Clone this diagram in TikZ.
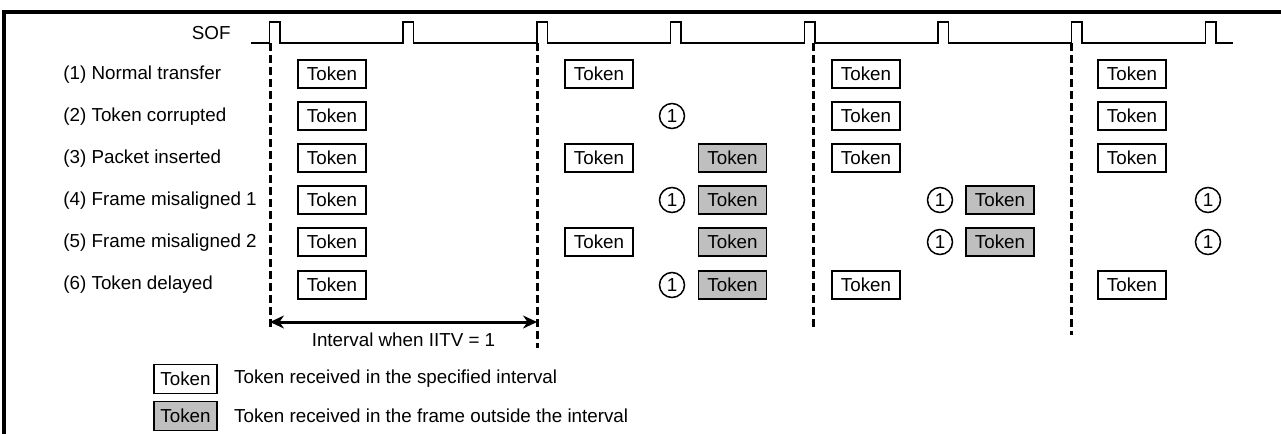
\documentclass[tikz,border=0pt]{standalone}
\usepackage{fontspec}
\setmainfont{Liberation Sans}
\usetikzlibrary{arrows.meta,positioning}
\definecolor{lategray}{RGB}{191,191,191}

\begin{document}
\begin{tikzpicture}[
        x=0.5pt, y=-0.5pt,
        font=\fontsize{9.4}{11}\selectfont,
        token/.style={draw, line width=0.8pt, minimum width=34pt, minimum height=14pt, inner sep=0pt},
        late/.style={token, fill=lategray},
        lost/.style={draw, circle, line width=0.75pt, minimum size=12.5pt, inner sep=0pt},
        rowlabel/.style={anchor=west, inner sep=0pt},
        sofline/.style={line width=0.75pt},
        bound/.style={line width=1.5pt, dash pattern=on 4pt off 2pt},
        ivlarrow/.style={{Stealth[length=7pt,width=6.5pt]}-{Stealth[length=7pt,width=6.5pt]}, line width=1.5pt}
    ]
    \useasboundingbox (0,0) rectangle (1281,434);
    \draw[line width=1.6pt] (1281,12) -- (4,12) -- (4,434);

    % SOF waveform
    \node[anchor=east, inner sep=0pt] (sof) at (231,33) {SOF};
    \draw[sofline] (251,43) foreach \x in {269.5,403.2,536.9,670.6,804.3,938,1071.7,1205.4}
        { -- (\x,43) -- (\x,22) -- (\x+10.5,22) -- (\x+10.5,43) } -- (1233,43);

    % frame boundaries
    \draw[bound] (270,43) -- (270,327);
    \draw[bound] (537,43) -- (537,348);
    \draw[bound] (813,43) -- (813,328);
    \draw[bound] (1071,43) -- (1071,335);

    % row labels
    \node[rowlabel] (lbl1) at (63,75) {(1) Normal transfer};
    \node[rowlabel] (lbl2) at (63,117) {(2) Token corrupted};
    \node[rowlabel] (lbl3) at (63,159) {(3) Packet inserted};
    \node[rowlabel] (lbl4) at (63,201) {(4) Frame misaligned 1};
    \node[rowlabel] (lbl5) at (63,243) {(5) Frame misaligned 2};
    \node[rowlabel] (lbl6) at (63,285) {(6) Token delayed};

    % (1)
    \node[token] (n1a) at (332,74) {Token};
    \node[token] (n1b) at (599,74) {Token};
    \node[token] (n1c) at (866,74) {Token};
    \node[token] (n1d) at (1132,74) {Token};

    % (2)
    \node[token] (n2a) at (332,116) {Token};
    \node[lost] (c2a) at (672,116) {1};
    \node[token] (n2c) at (866,116) {Token};
    \node[token] (n2d) at (1132,116) {Token};

    % (3)
    \node[token] (n3a) at (332,158) {Token};
    \node[token] (n3b) at (599,158) {Token};
    \node[late] (g3a) at (732.5,158) {Token};
    \node[token] (n3c) at (866,158) {Token};
    \node[token] (n3d) at (1132,158) {Token};

    % (4)
    \node[token] (n4a) at (332,200) {Token};
    \node[lost] (c4a) at (672,200) {1};
    \node[late] (g4a) at (732.5,200) {Token};
    \node[lost] (c4b) at (940,200) {1};
    \node[late] (g4b) at (1000,200) {Token};
    \node[lost] (c4c) at (1208,200) {1};

    % (5)
    \node[token] (n5a) at (332,242) {Token};
    \node[token] (n5b) at (599,242) {Token};
    \node[late] (g5a) at (732.5,242) {Token};
    \node[lost] (c5b) at (940,242) {1};
    \node[late] (g5b) at (1000,242) {Token};
    \node[lost] (c5c) at (1208,242) {1};

    % (6)
    \node[token] (n6a) at (332,285) {Token};
    \node[lost] (c6a) at (672,285) {1};
    \node[late] (g6a) at (732.5,285) {Token};
    \node[token] (n6c) at (866,285) {Token};
    \node[token] (n6d) at (1132,285) {Token};

    % interval
    \coordinate (ivl-l) at (270,322);
    \coordinate (ivl-r) at (537,322);
    \draw[ivlarrow] (ivl-l) -- (ivl-r);
    \node (ivl-txt) at (403.5,340) {Interval when IITV = 1};

    % legend
    \node[token, minimum width=31.5pt, minimum height=14.5pt] (leg-in) at (185.5,379) {Token};
    \node[rowlabel, right=8pt of leg-in] (leg-in-txt) {Token received in the specified interval};
    \node[late, minimum width=31.5pt, minimum height=14.5pt] (leg-out) at (185.5,416) {Token};
    \node[rowlabel, right=8pt of leg-out] (leg-out-txt) {Token received in the frame outside the interval};
\end{tikzpicture}
\end{document}
